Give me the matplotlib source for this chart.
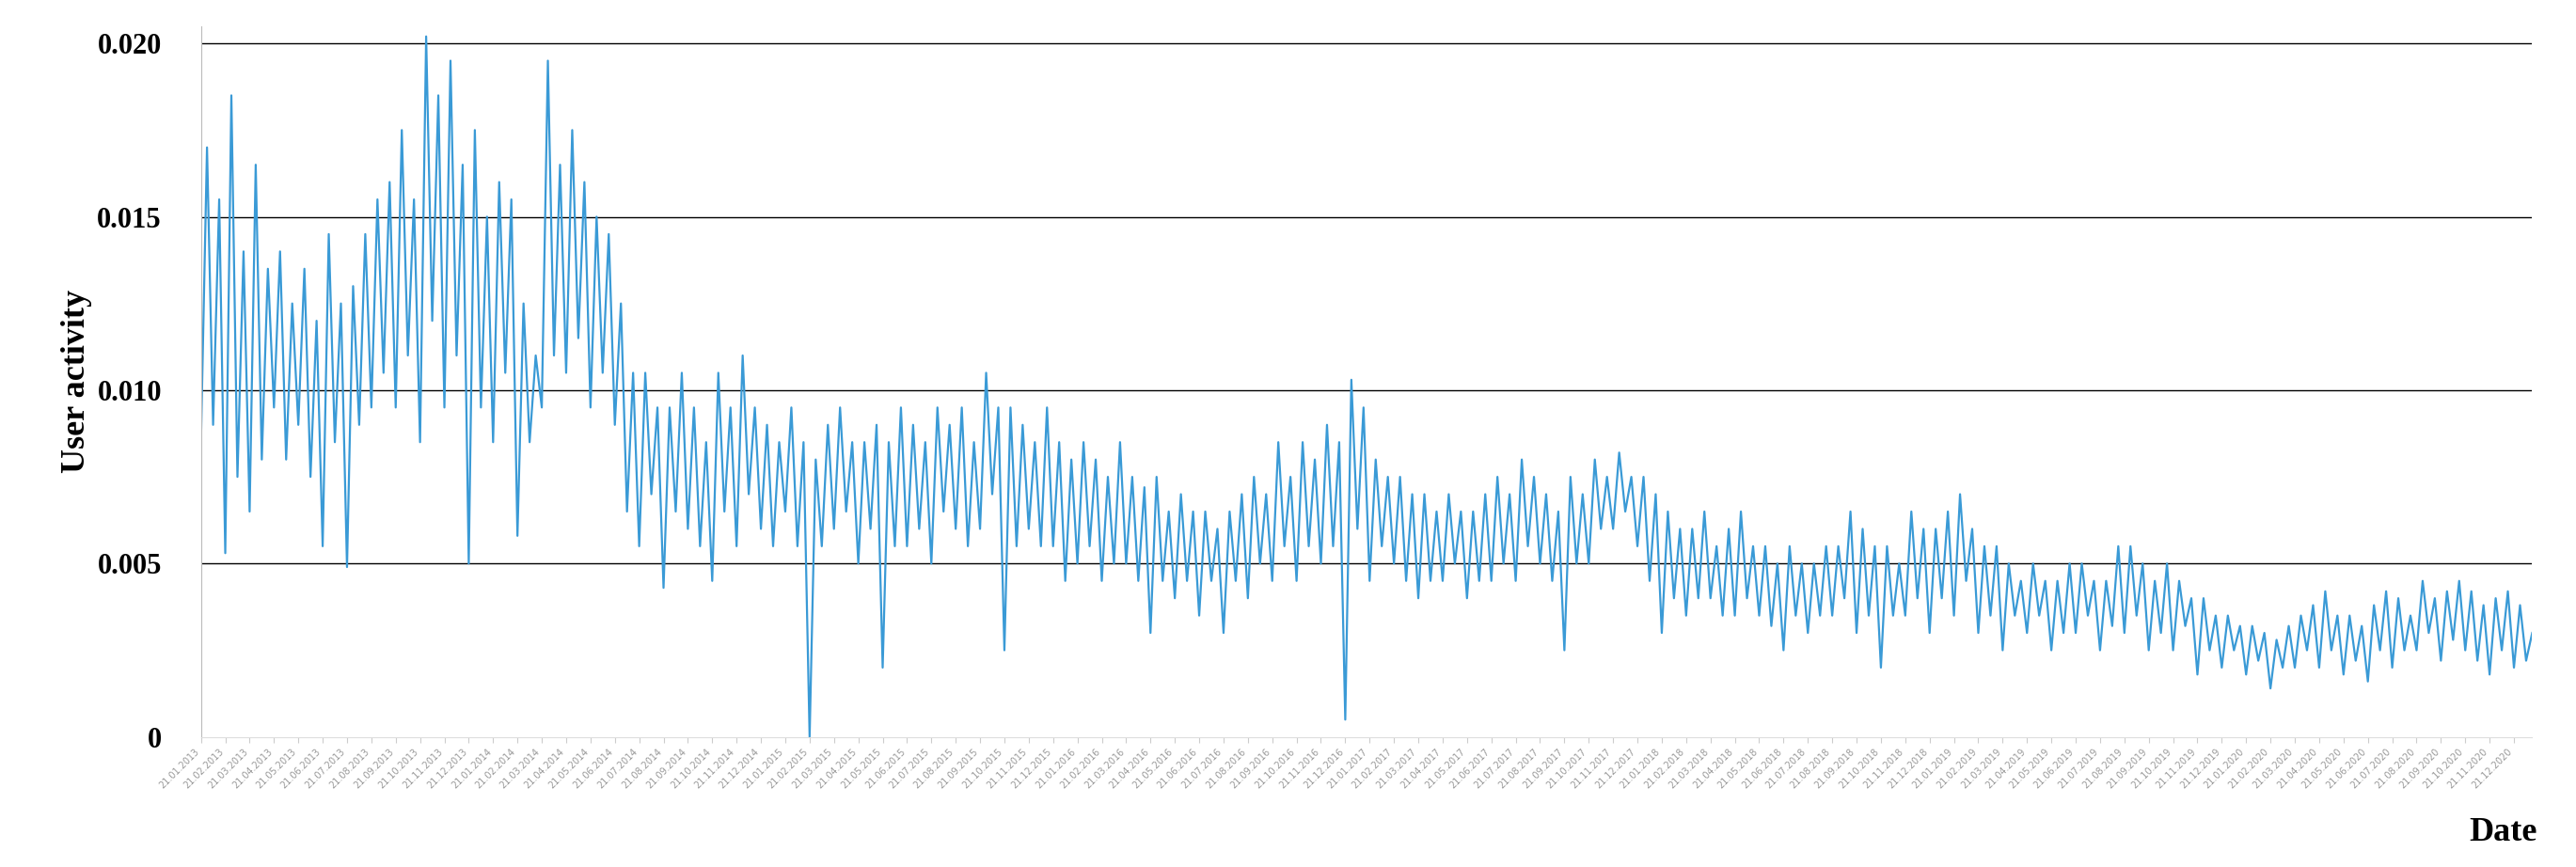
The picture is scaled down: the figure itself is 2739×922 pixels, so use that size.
import numpy as np
import matplotlib.pyplot as plt

# user activity, 4 readings per month (Jan 2013 - Dec 2020)
act_2013 = [.0085, .017, .009, .0155, .0053, .0185, .0075, .014, .0065, .0165, .008, .0135,
            .0095, .014, .008, .0125, .009, .0135, .0075, .012, .0055, .0145, .0085, .0125,
            .0049, .013, .009, .0145, .0095, .0155, .0105, .016, .0095, .0175, .011, .0155,
            .0085, .0202, .012, .0185, .0095, .0195, .011, .0165, .005, .0175, .0095, .015]
act_2014 = [.0085, .016, .0105, .0155, .0058, .0125, .0085, .011, .0095, .0195, .011, .0165,
            .0105, .0175, .0115, .016, .0095, .015, .0105, .0145, .009, .0125, .0065, .0105,
            .0055, .0105, .007, .0095, .0043, .0095, .0065, .0105, .006, .0095, .0055, .0085,
            .0045, .0105, .0065, .0095, .0055, .011, .007, .0095, .006, .009, .0055, .0085]
act_2015 = [.0065, .0095, .0055, .0085, .0, .008, .0055, .009, .006, .0095, .0065, .0085,
            .005, .0085, .006, .009, .002, .0085, .0055, .0095, .0055, .009, .006, .0085,
            .005, .0095, .0065, .009, .006, .0095, .0055, .0085, .006, .0105, .007, .0095,
            .0025, .0095, .0055, .009, .006, .0085, .0055, .0095, .0055, .0085, .0045, .008]
act_2016 = [.005, .0085, .0055, .008, .0045, .0075, .005, .0085, .005, .0075, .0045, .0072,
            .003, .0075, .0045, .0065, .004, .007, .0045, .0065, .0035, .0065, .0045, .006,
            .003, .0065, .0045, .007, .004, .0075, .005, .007, .0045, .0085, .0055, .0075,
            .0045, .0085, .0055, .008, .005, .009, .0055, .0085, .0005, .0103, .006, .0095]
act_2017 = [.0045, .008, .0055, .0075, .005, .0075, .0045, .007, .004, .007, .0045, .0065,
            .0045, .007, .005, .0065, .004, .0065, .0045, .007, .0045, .0075, .005, .007,
            .0045, .008, .0055, .0075, .005, .007, .0045, .0065, .0025, .0075, .005, .007,
            .005, .008, .006, .0075, .006, .0082, .0065, .0075, .0055, .0075, .0045, .007]
act_2018 = [.003, .0065, .004, .006, .0035, .006, .004, .0065, .004, .0055, .0035, .006,
            .0035, .0065, .004, .0055, .0035, .0055, .0032, .005, .0025, .0055, .0035, .005,
            .003, .005, .0035, .0055, .0035, .0055, .004, .0065, .003, .006, .0035, .0055,
            .002, .0055, .0035, .005, .0035, .0065, .004, .006, .003, .006, .004, .0065]
act_2019 = [.0035, .007, .0045, .006, .003, .0055, .0035, .0055, .0025, .005, .0035, .0045,
            .003, .005, .0035, .0045, .0025, .0045, .003, .005, .003, .005, .0035, .0045,
            .0025, .0045, .0032, .0055, .003, .0055, .0035, .005, .0025, .0045, .003, .005,
            .0025, .0045, .0032, .004, .0018, .004, .0025, .0035, .002, .0035, .0025, .0032]
act_2020 = [.0018, .0032, .0022, .003, .0014, .0028, .002, .0032, .002, .0035, .0025, .0038,
            .002, .0042, .0025, .0035, .0018, .0035, .0022, .0032, .0016, .0038, .0025, .0042,
            .002, .004, .0025, .0035, .0025, .0045, .003, .004, .0022, .0042, .0028, .0045,
            .0025, .0042, .0022, .0038, .0018, .004, .0025, .0042, .002, .0038, .0022, .003]

years = list(range(2013, 2021))
tick_labels = [f"21.{m:02d}.{y}" for y in years for m in range(1, 13)]
y_ticks = [0, 0.005, 0.010, 0.015, 0.020]
y_labels = ["0", "0.005", "0.010", "0.015", "0.020"]

actividad = np.array(act_2013 + act_2014 + act_2015 + act_2016 +
                     act_2017 + act_2018 + act_2019 + act_2020)
idx = np.arange(len(actividad))

fig = plt.figure(figsize=(27.39, 9.22), dpi=100)
ax = fig.add_axes([0.078, 0.15, 0.905, 0.82])

for yv in y_ticks[1:]:
    ax.axhline(yv, color="black", lw=1.0, zorder=1)

ax.plot(idx, actividad, color="#3a9ad6", lw=1.6, zorder=2)

ax.set_xlim(0, len(actividad) - 1)
ax.set_ylim(0, 0.0205)
ax.set_xticks(np.arange(0, len(actividad), 4))
ax.set_xticklabels(tick_labels, rotation=45, ha="right", fontsize=7, color="#999999")
ax.set_yticks(y_ticks)
ax.set_yticklabels(y_labels, fontsize=22, fontweight="bold", family="Liberation Serif")
ax.tick_params(axis="y", length=0, pad=30)
ax.tick_params(axis="x", length=4, color="#cccccc")

for s in ["top", "right"]:
    ax.spines[s].set_visible(False)
ax.spines["left"].set_color("#bbbbbb")
ax.spines["bottom"].set_color("#dddddd")

ax.set_ylabel("User activity", fontsize=26, fontweight="bold", family="Liberation Serif")
fig.text(0.985, 0.03, "Date", ha="right", fontsize=26, fontweight="bold", family="Liberation Serif")

fig.savefig("out.png", dpi=100)
